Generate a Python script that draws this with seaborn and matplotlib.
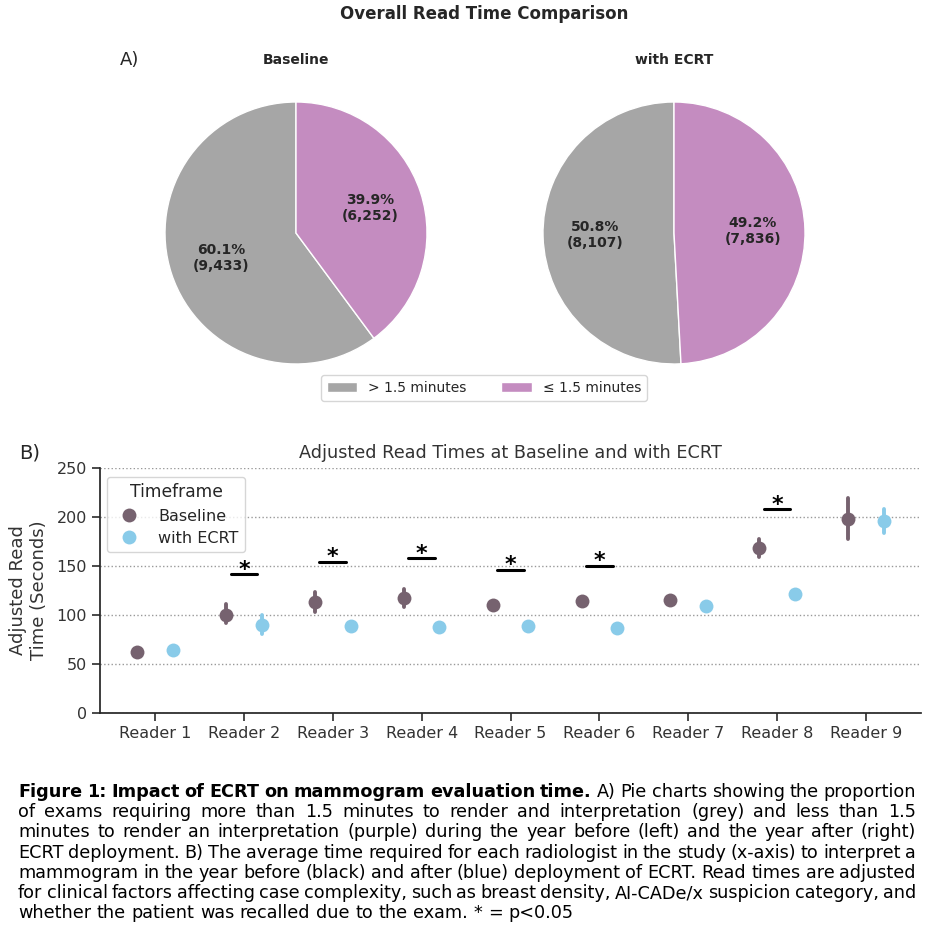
import matplotlib
matplotlib.use("Agg")
import matplotlib.pyplot as plt
import seaborn as sns
import pandas as pd
import numpy as np

# ---- data ----
pie_labels = ["> 1.5 minutes", "\u2264 1.5 minutes"]
pie_colors = ["#a6a6a6", "#c48cc0"]
baseline_counts = [9433, 6252]
ecrt_counts = [8107, 7836]

readers = ["Reader %d" % i for i in range(1, 10)]
baseline_mean = [62.5, 100, 113, 117, 110.5, 114, 115, 168, 198]
baseline_lo = [60, 92, 103.5, 108.5, 107.5, 111, 112, 159, 178]
baseline_hi = [65, 111, 123, 127, 113.5, 117, 118, 178, 219]
ecrt_mean = [64.5, 89.5, 89, 88, 89, 87, 109, 121, 195.5]
ecrt_lo = [62, 81, 87, 86, 87, 83.5, 106.5, 118, 184]
ecrt_hi = [67, 100, 91, 90, 91, 90.5, 111.5, 124, 208]

# significance markers (reader index, bar height)
sig_readers = [1, 2, 3, 4, 5, 7]
sig_heights = [141.5, 154.5, 158, 146, 150, 208]

caption = [
    [("Figure 1: Impact of ECRT on mammogram evaluation time.", "bold"),
     ("A) Pie charts showing the proportion", "normal")],
    [("of exams requiring more than 1.5 minutes to render and interpretation (grey) and less than 1.5", "normal")],
    [("minutes to render an interpretation (purple) during the year before (left) and the year after (right)", "normal")],
    [("ECRT deployment. B) The average time required for each radiologist in the study (x-axis) to interpret a", "normal")],
    [("mammogram in the year before (black) and after (blue) deployment of ECRT. Read times are adjusted", "normal")],
    [("for clinical factors affecting case complexity, such as breast density, AI-CADe/x suspicion category, and", "normal")],
    [("whether the patient was recalled due to the exam. * = p<0.05", "normal")],
]

sns.set_theme(style="ticks")
plt.rcParams["font.family"] = ["DejaVu Sans"]
plt.rcParams["font.sans-serif"] = ["DejaVu Sans"]

W = H = 936
fig = plt.figure(figsize=(W / 100, H / 100), dpi=100)


def px_axes(left, top, width, height):
    return fig.add_axes([left / W, 1 - (top + height) / H, width / W, height / H])


def fmt(counts):
    total = sum(counts)
    return lambda p: "%.1f%%\n(%s)" % (p, format(int(round(p * total / 100)), ","))


# ---- pies ----
fig.text(484 / W, 1 - 14 / H, "Overall Read Time Comparison", ha="center", va="center",
         fontsize=12, weight="bold", color="#262626")
fig.text(130 / W, 1 - 60 / H, "A)", ha="center", va="center", fontsize=13, color="#262626")

wedges = None
for cx, counts, name in [(296, baseline_counts, "Baseline"), (674, ecrt_counts, "with ECRT")]:
    r = 131
    ax = px_axes(cx - 1.25 * r, 233 - 1.25 * r, 2.5 * r, 2.5 * r)
    w, _, autotexts = ax.pie(counts, colors=pie_colors, startangle=90, autopct=fmt(counts),
                             wedgeprops={"edgecolor": "white", "linewidth": 1},
                             textprops={"fontsize": 10, "weight": "bold", "color": "#262626"})
    ax.set_aspect("equal")
    wedges = w
    fig.text(cx / W, 1 - 60 / H, name, ha="center", va="center", fontsize=10,
             weight="bold", color="#262626")

fig.legend(wedges, pie_labels, loc="center", bbox_to_anchor=(484 / W, 1 - 388 / H), ncol=2,
           fontsize=10, frameon=True, columnspacing=2.5, handlelength=2.2)

# ---- point plot ----
rows = []
for i, rd in enumerate(readers):
    for tf, lo, m, hi in [("Baseline", baseline_lo, baseline_mean, baseline_hi),
                          ("with ECRT", ecrt_lo, ecrt_mean, ecrt_hi)]:
        for v in (lo[i], m[i], hi[i]):
            rows.append({"Reader": rd, "Timeframe": tf, "Seconds": v})
df = pd.DataFrame(rows)

ax2 = px_axes(100, 468, 821, 245)
sns.pointplot(data=df, x="Reader", y="Seconds", hue="Timeframe",
              palette={"Baseline": "#76626f", "with ECRT": "#89cbe9"},
              estimator="median", errorbar=lambda v: (v.min(), v.max()),
              dodge=0.4, linestyle="none", markers="o", markersize=10,
              markeredgewidth=0, err_kws={"linewidth": 2.8}, ax=ax2)
ax2.set_ylim(0, 250)
ax2.set_yticks(range(0, 251, 50))
ax2.yaxis.grid(True, linestyle=":", color="#999999", linewidth=1)
ax2.set_axisbelow(True)
sns.despine(ax=ax2)
ax2.set_xlabel("")
ax2.set_ylabel("Adjusted Read\nTime (Seconds)", fontsize=13, color="#333333", labelpad=6)
ax2.tick_params(axis="both", labelsize=11.5, colors="#333333")
ax2.set_title("Adjusted Read Times at Baseline and with ECRT", fontsize=12.7, color="#333333", pad=7)
fig.text(30 / W, 1 - 453 / H, "B)", ha="center", va="center", fontsize=14, color="#262626")

for xi, hgt in zip(sig_readers, sig_heights):
    ax2.plot([xi - 0.15, xi + 0.15], [hgt, hgt], color="black", linewidth=2.2)
    ax2.annotate("*", (xi, hgt), xytext=(0, -1), textcoords="offset points",
                 ha="center", va="baseline", fontsize=16, weight="bold", color="black")

leg = ax2.legend(title="Timeframe", loc="upper left", bbox_to_anchor=(7 / 821, 1 - 9 / 245),
                 borderaxespad=0, fontsize=11.5, title_fontsize=12.3, frameon=True,
                 handletextpad=0.8, labelspacing=0.45)

# ---- caption (justified) ----
renderer = fig.canvas.get_renderer()
left_px, right_px = 18, 916


def width_of(s, weight, size):
    t = fig.text(0, 0, s, fontsize=size, weight=weight)
    w = t.get_window_extent(renderer).width
    t.remove()
    return w


def line_words(segs):
    words = []
    for s, wt in segs:
        words += [(wd, wt) for wd in s.split(" ")]
    return words


# pick a size so the last (unjustified) line is as wide as in the reference,
# but the longest line still fits
last_w = width_of(caption[-1][0][0], "normal", 10)
cap_size = 10 * 557 / last_w
sp10 = width_of("a a", "normal", 10) - width_of("aa", "normal", 10)
for segs in caption[:-1]:
    words = line_words(segs)
    nat = sum(width_of(wd, wt, 10) for wd, wt in words) + sp10 * 0.8 * (len(words) - 1)
    cap_size = min(cap_size, 10 * (right_px - left_px) / nat)

space_w = width_of("a a", "normal", cap_size) - width_of("aa", "normal", cap_size)
for li, segs in enumerate(caption):
    words = line_words(segs)
    widths = [width_of(wd, wt, cap_size) for wd, wt in words]
    if li < len(caption) - 1:
        gap = (right_px - left_px - sum(widths)) / (len(words) - 1)
    else:
        gap = space_w
    x = left_px
    y = 792 + 20.2 * li
    for (wd, wt), wdt in zip(words, widths):
        fig.text(x / W, 1 - y / H, wd, fontsize=cap_size, weight=wt, va="center",
                 ha="left", color="black")
        x += wdt + gap

fig.savefig("out.png", dpi=100)
